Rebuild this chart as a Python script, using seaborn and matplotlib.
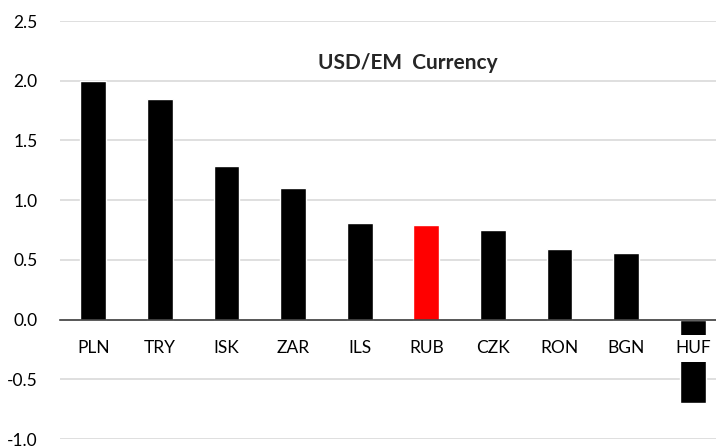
import numpy as np
import pandas as pd
import matplotlib
matplotlib.use("Agg")
import matplotlib.pyplot as plt
import seaborn as sns
from matplotlib.ticker import FixedLocator, MultipleLocator, FormatStrFormatter

# chart data
currencies = ["PLN", "TRY", "ISK", "ZAR", "ILS", "RUB", "CZK", "RON", "BGN", "HUF"]
values = [2.00, 1.85, 1.29, 1.10, 0.81, 0.79, 0.75, 0.59, 0.56, -0.70]
bar_colors = ["black", "black", "black", "black", "black", "red", "black", "black", "black", "black"]

df = pd.DataFrame({"Currency": currencies, "Value": values})

sns.set_theme(style="white")
plt.rcParams["font.family"] = ["Lato", "DejaVu Sans"]

fig = plt.figure(figsize=(7.16, 4.48), dpi=100)
ax = fig.add_axes([60 / 716, 9 / 448, 666 / 716, 418 / 448])

sns.barplot(data=df, x="Currency", y="Value", hue="Currency", palette=bar_colors,
            width=0.39, legend=False, saturation=1, ax=ax)

ax.set_xlim(-0.5, len(currencies) - 0.5)
ax.set_ylim(-1.0, 2.5)
ax.yaxis.set_major_locator(MultipleLocator(0.5))
ax.yaxis.set_major_formatter(FormatStrFormatter("%.1f"))
ax.grid(axis="y", color="#d9d9d9", linewidth=1.2)
ax.yaxis.set_zorder(0.5)
ax.xaxis.set_zorder(3)

for side in ["left", "right", "top"]:
    ax.spines[side].set_visible(False)
ax.spines["bottom"].set_position(("data", 0))
ax.spines["bottom"].set_color("#404040")
ax.spines["bottom"].set_linewidth(1.2)

ax.xaxis.set_minor_locator(FixedLocator(np.arange(-0.5, len(currencies), 1.0)))
ax.tick_params(axis="x", which="minor", length=5, width=1.2, color="#404040", direction="out")
ax.tick_params(axis="x", which="major", length=0, pad=15, labelsize=12.5, labelcolor="black")
ax.tick_params(axis="y", length=0, pad=16, labelsize=12.5, labelcolor="black")
for lbl in ax.get_xticklabels():
    lbl.set_bbox(dict(facecolor="white", edgecolor="none", boxstyle="square,pad=0.3"))

ax.set_xlabel("")
ax.set_ylabel("")

ax.text(0.522, 0.9, "USD/EM  Currency", transform=ax.transAxes, ha="center", va="center",
        fontsize=15, fontweight="bold")

fig.savefig("out.png", dpi=100)
